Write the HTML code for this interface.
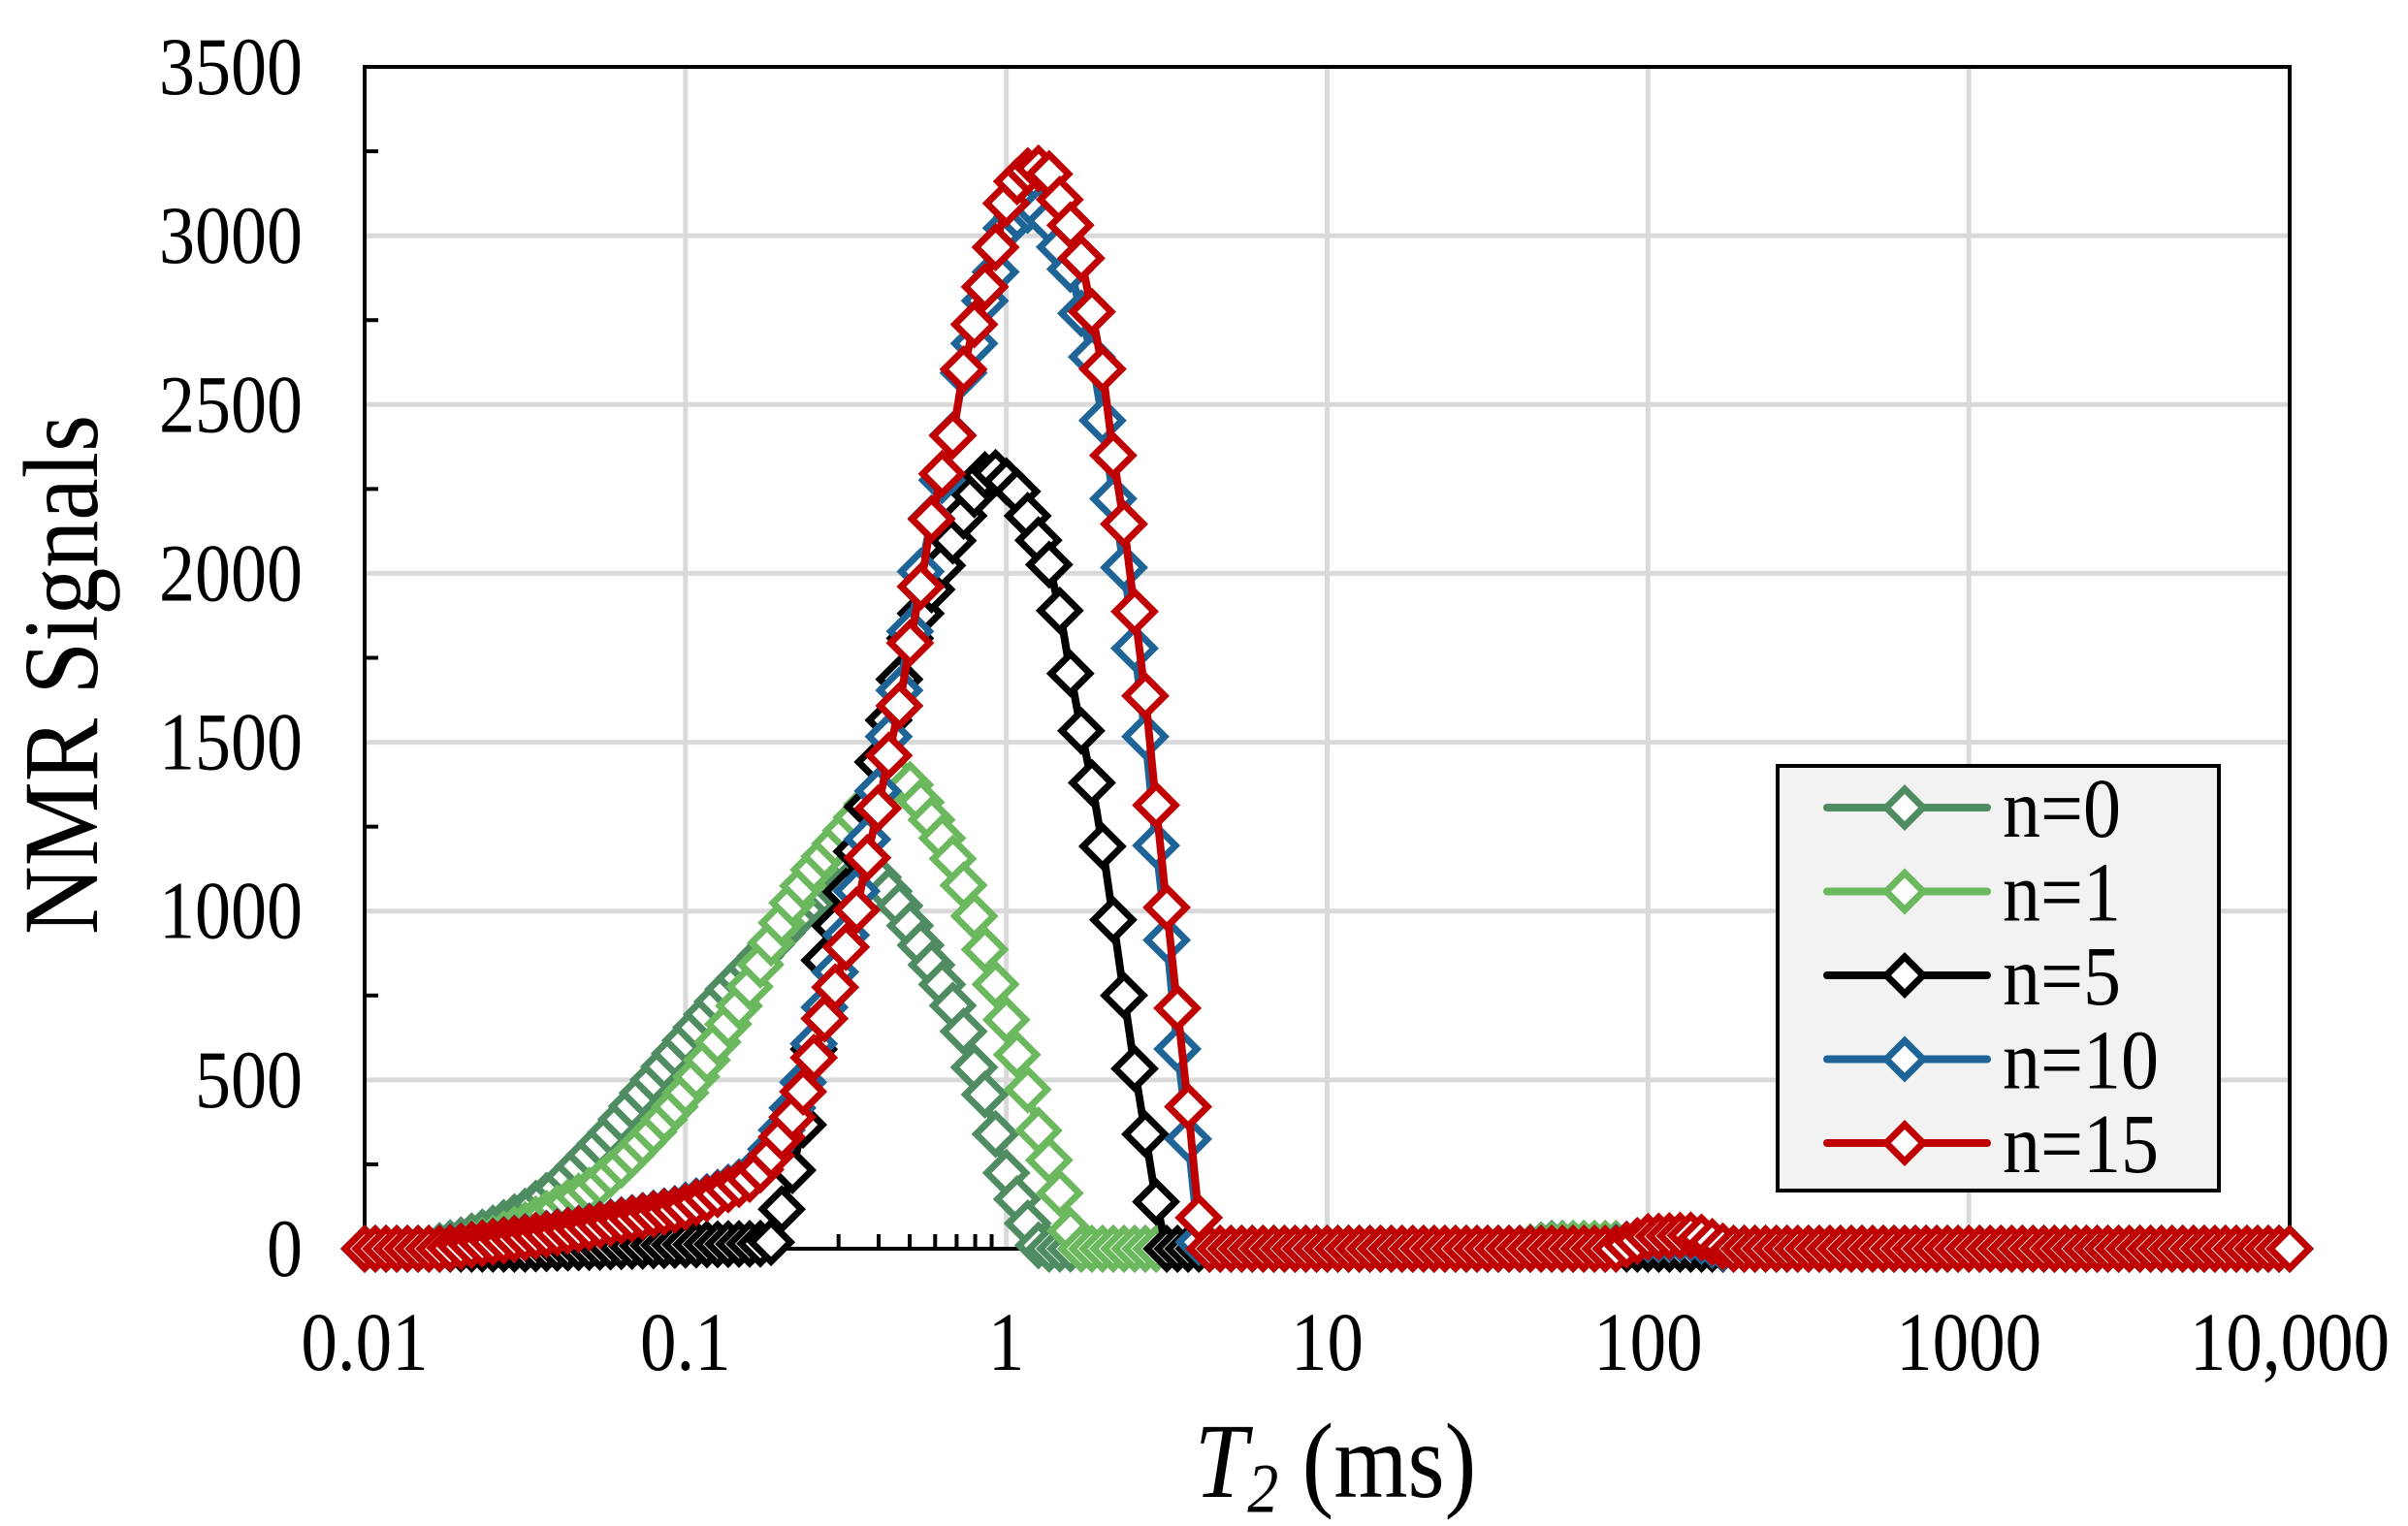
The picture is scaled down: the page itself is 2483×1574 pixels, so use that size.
<!DOCTYPE html>
<html><head><meta charset="utf-8"><style>
html,body{margin:0;padding:0;background:#fff;}
svg{display:block;}
text{font-family:"Liberation Serif",serif;fill:#000;}
</style></head><body>
<svg id="s" width="2483" height="1574" xmlns="http://www.w3.org/2000/svg"></svg>
<script>
const S=document.getElementById('s');
const X0=376,X1=2361,Y0=1288,YT=69;
const px=L=>X0+(L+2)*(X1-X0)/6;
const py=v=>Y0-v*(Y0-YT)/3500;
let h='';
const T=(x,y,fs,anc,c,sy,rot)=>`<text transform="translate(${x},${y})${rot?' rotate(-90)':''} scale(1,${sy})" font-size="${fs}" text-anchor="${anc}">${c}</text>`;
// grid
for(let v=500;v<=3000;v+=500)h+=`<line x1="${X0}" x2="${X1}" y1="${py(v)}" y2="${py(v)}" stroke="#d9d9d9" stroke-width="5"/>`;
for(let d=-1;d<=3;d++)h+=`<line x1="${px(d)}" x2="${px(d)}" y1="${YT}" y2="${Y0}" stroke="#d9d9d9" stroke-width="5"/>`;
// minor ticks
for(let v=250;v<3500;v+=500)h+=`<line x1="${X0}" x2="${X0+14}" y1="${py(v)}" y2="${py(v)}" stroke="#000" stroke-width="4"/>`;
for(let d=-2;d<4;d++)for(let k=2;k<=9;k++){const x=px(d+Math.log10(k));h+=`<line x1="${x}" x2="${x}" y1="${Y0}" y2="${Y0-15}" stroke="#000" stroke-width="4"/>`;}
h+=`<rect x="${X0}" y="${YT}" width="${X1-X0}" height="${Y0-YT}" fill="none" stroke="#000" stroke-width="4"/>`;
// tick labels
for(let v=0;v<=3500;v+=500)h+=T(312,py(v)+28,74,'end',v,1.15);
const xl=['0.01','0.1','1','10','100','1000','10,000'];
xl.forEach((t,i)=>{h+=T(px(i-2),1413,75,'middle',t,1.15);});
h+=T(100,696,98,'middle','NMR Signals',1.0,true).replace('scale(1,1)','scale(1.0,1.12)');
h+=`<text transform="translate(1377,1544) scale(1,1.12)" font-size="98" text-anchor="middle"><tspan font-style="italic">T</tspan><tspan font-style="italic" font-size="64" dy="14">2</tspan><tspan dy="-14"> (ms)</tspan></text>`;
// data
const red=[[-2,0],[-1.75,0],[-1.6,20],[-1.45,40],[-1.32,60],[-1.187,85],[-1.01,120],[-0.89,165],[-0.782,215],[-0.73,280],[-0.67,382],[-0.622,491],[-0.594,586],[-0.568,678],[-0.534,772],[-0.507,873],[-0.473,973],[-0.446,1100],[-0.419,1223],[-0.386,1364],[-0.358,1504],[-0.325,1643],[-0.298,1806],[-0.27,1938],[-0.245,2110],[-0.21,2262],[-0.168,2400],[-0.144,2541],[-0.12,2684],[-0.077,2799],[-0.053,2914],[-0.017,3009],[0.007,3132],[0.06,3190],[0.098,3200],[0.137,3181],[0.183,3066],[0.225,2980],[0.249,2845],[0.285,2702],[0.31,2541],[0.334,2344],[0.37,2126],[0.397,1909],[0.431,1660],[0.458,1400],[0.485,1131],[0.519,858],[0.545,594],[0.579,322],[0.606,26],[0.63,0],[1.9,0],[2.0,35],[2.15,40],[2.25,0],[4,0]];
const blue=red.map(([L,v])=>[L-0.012,v>1500?1500+(v-1500)*0.93:v]).map(([L,v])=>[L,(L>1.5&&v>0)?v*0.8:v]);
const blk=[[-2,0],[-1.5,0],[-1.3,5],[-1.0,12],[-0.76,15],[-0.73,20],[-0.676,195],[-0.622,413],[-0.568,850],[-0.486,1100],[-0.392,1473],[-0.298,1815],[-0.203,2017],[-0.12,2200],[-0.054,2313],[0.03,2250],[0.148,1994],[0.216,1614],[0.282,1309],[0.337,950],[0.391,586],[0.458,195],[0.485,20],[0.5,0],[4,0]];
const g1=[[-2,0],[-1.75,0],[-1.6,30],[-1.5,70],[-1.4,120],[-1.283,181],[-1.188,258],[-1.093,353],[-1.012,445],[-0.945,540],[-0.878,647],[-0.81,757],[-0.73,913],[-0.66,1036],[-0.594,1131],[-0.513,1223],[-0.432,1318],[-0.317,1400],[-0.243,1286],[-0.176,1177],[-0.123,1052],[-0.08,927],[-0.04,804],[0,678],[0.04,554],[0.08,430],[0.107,322],[0.149,227],[0.175,135],[0.21,20],[0.23,0],[1.6,0],[1.75,15],[1.9,15],[2.0,0],[4,0]];
const g0=[[-2,0],[-1.8,0],[-1.7,25],[-1.6,60],[-1.5,110],[-1.4,180],[-1.32,258],[-1.24,336],[-1.147,445],[-1.054,554],[-0.96,663],[-0.878,757],[-0.783,850],[-0.676,959],[-0.58,1052],[-0.4,1100],[-0.337,1022],[-0.283,927],[-0.23,835],[-0.176,741],[-0.135,649],[-0.107,554],[-0.068,461],[-0.04,368],[-0.014,258],[0.025,165],[0.068,72],[0.1,10],[0.12,0],[1.6,0],[1.7,15],[1.85,15],[1.95,0],[4,0]];
function interp(pts,L){for(let i=0;i<pts.length-1;i++){const[a,va]=pts[i],[b,vb]=pts[i+1];if(L>=a&&L<=b)return b===a?va:va+(vb-va)*(L-a)/(b-a);}return 0;}
const series=[[g0,'#4f8c62'],[g1,'#6bb85e'],[blk,'#000000'],[blue,'#1f6496'],[red,'#c00000']];
const N=181,R=20;
series.forEach(([pts,c])=>{
  const P=[];for(let i=0;i<N;i++){const L=-2+6*i/(N-1);P.push([px(L),py(interp(pts,L))]);}
  h+=`<polyline points="${P.map(p=>p[0].toFixed(1)+','+p[1].toFixed(1)).join(' ')}" fill="none" stroke="${c}" stroke-width="8" stroke-linejoin="round"/>`;
  P.forEach(([x,y])=>{h+=`<path d="M${(x-R).toFixed(1)} ${y.toFixed(1)}L${x.toFixed(1)} ${(y-R).toFixed(1)}L${(x+R).toFixed(1)} ${y.toFixed(1)}L${x.toFixed(1)} ${(y+R).toFixed(1)}Z" fill="#fff" stroke="${c}" stroke-width="7"/>`;});
});
// legend
h+=`<rect x="1833" y="790" width="455" height="438" fill="#f2f2f2" stroke="#000" stroke-width="4"/>`;
const labs=['n=0','n=1','n=5','n=10','n=15'];
series.forEach(([p,c],i)=>{const y=833+i*86.5;
  h+=`<line x1="1884" x2="2049" y1="${y}" y2="${y}" stroke="${c}" stroke-width="8" stroke-linecap="round"/>`;
  h+=`<path d="M1945 ${y}L1964 ${y-19}L1983 ${y}L1964 ${y+19}Z" fill="#fff" stroke="${c}" stroke-width="7"/>`;
  h+=T(2065,y+30,78,'start',labs[i],1.12);});
S.innerHTML=h;
</script>
</body></html>
